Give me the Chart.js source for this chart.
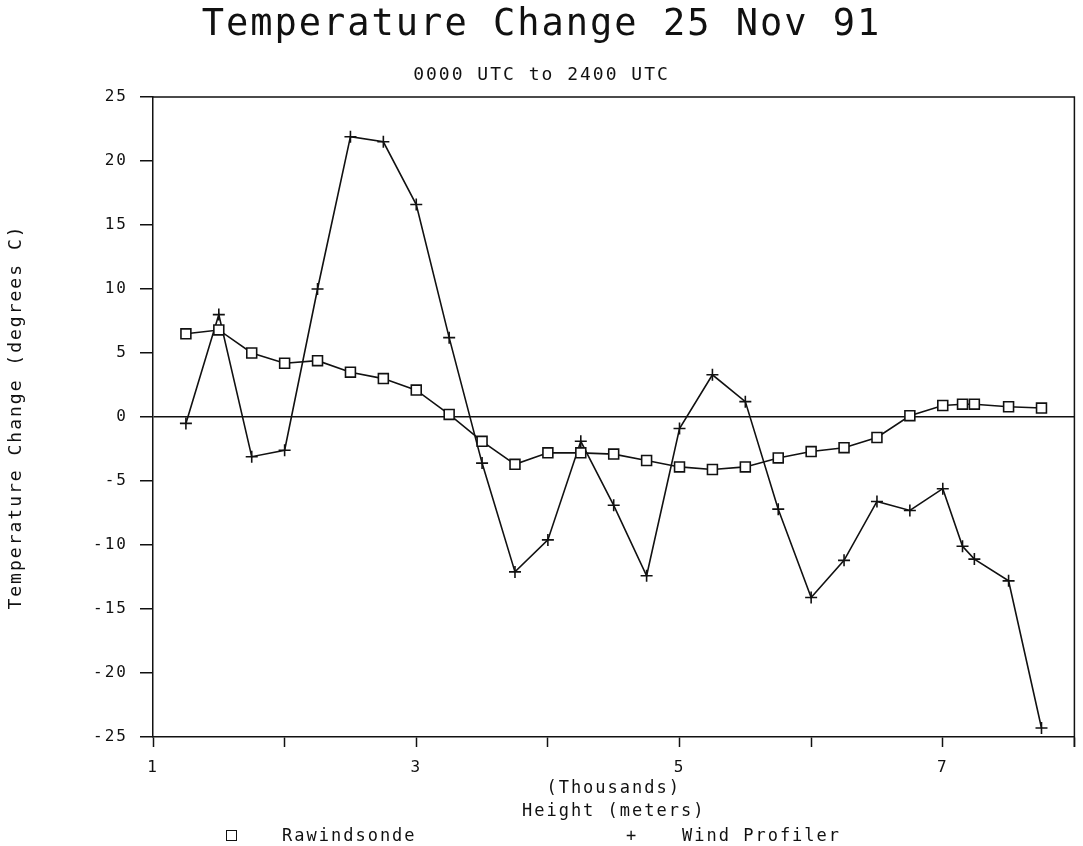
<!DOCTYPE html>
<html>
<head>
<meta charset="utf-8">
<title>Temperature Change 25 Nov 91</title>
<script src="https://cdn.jsdelivr.net/npm/chart.js@4"></script>
<style>
  body { margin: 0; background: #fff; }
  #wrap { position: relative; width: 1083px; height: 846px; }
  .leg { position: absolute; top: 825px; height: 20px; line-height: 20px;
         font: 17px "DejaVu Sans Mono", monospace; letter-spacing: 2px; color: #111; }
  .box { position: absolute; top: 830px; width: 9px; height: 9px; border: 1.5px solid #111; }
</style>
</head>
<body>
<div id="wrap">
  <canvas id="myChart"></canvas>
  <span class="box" style="left:226px"></span>
  <span class="leg" style="left:282px">Rawindsonde</span>
  <span class="leg" style="left:626px">+</span>
  <span class="leg" style="left:682px">Wind Profiler</span>
</div>
<script>
// heights in thousands of meters
var heights = [1.25, 1.5, 1.75, 2, 2.25, 2.5, 2.75, 3, 3.25, 3.5, 3.75, 4, 4.25, 4.5,
               4.75, 5, 5.25, 5.5, 5.75, 6, 6.25, 6.5, 6.75, 7, 7.15, 7.24, 7.5, 7.75];
var rawinsonde = [6.5, 6.8, 5.0, 4.2, 4.4, 3.5, 3.0, 2.1, 0.2, -1.9, -3.7, -2.8, -2.8, -2.9,
                  -3.4, -3.9, -4.1, -3.9, -3.2, -2.7, -2.4, -1.6, 0.1, 0.9, 1.0, 1.0, 0.8, 0.7];
var windProfiler = [-0.5, 8.0, -3.1, -2.6, 10.0, 21.9, 21.5, 16.6, 6.2, -3.6, -12.1, -9.6, -1.9, -6.9,
                    -12.4, -0.9, 3.3, 1.2, -7.2, -14.1, -11.2, -6.6, -7.3, -5.6, -10.1, -11.1, -12.8, -24.3];
var xLabels = [1, 3, 5, 7];

function pts(vals) {
  return heights.map(function (h, i) { return { x: h, y: vals[i] }; });
}

var ink = '#111';
var mono = '"DejaVu Sans Mono", monospace';

// plotter style text is spaced out a bit
var spacing = {
  id: 'spacing',
  beforeUpdate: function (chart) { chart.ctx.letterSpacing = '2px'; },
  beforeDraw: function (chart) { chart.ctx.letterSpacing = '2px'; }
};
// top and right edges of the plot frame
var frame = {
  id: 'frame',
  afterDraw: function (chart) {
    var a = chart.chartArea, c = chart.ctx;
    c.save();
    c.strokeStyle = ink;
    c.lineWidth = 1.5;
    c.beginPath();
    c.moveTo(a.left, a.top);
    c.lineTo(a.right, a.top);
    c.lineTo(a.right, a.bottom + 10);
    c.stroke();
    c.restore();
  }
};

var ctx = document.getElementById('myChart');
var myChart = new Chart(ctx, {
  type: 'scatter',
  data: {
    datasets: [
      {
        label: 'Rawindsonde',
        data: pts(rawinsonde),
        showLine: true,
        borderColor: ink,
        borderWidth: 1.6,
        tension: 0,
        pointStyle: 'rect',
        pointRadius: 7,
        pointBorderWidth: 1.6,
        pointBorderColor: ink,
        pointBackgroundColor: '#fff'
      },
      {
        label: 'Wind Profiler',
        data: pts(windProfiler),
        showLine: true,
        borderColor: ink,
        borderWidth: 1.6,
        tension: 0,
        pointStyle: 'cross',
        pointRadius: 6,
        pointBorderWidth: 1.6,
        pointBorderColor: ink
      }
    ]
  },
  options: {
    responsive: true,
    maintainAspectRatio: false,
    animation: false,
    layout: { padding: { left: 0, right: 0, top: 0, bottom: 22.5 } },
    plugins: {
      legend: { display: false },
      tooltip: { enabled: false },
      title: {
        display: true,
        text: 'Temperature Change 25 Nov 91',
        color: ink,
        font: { family: mono, size: 37, weight: 'normal' },
        padding: { top: 3, bottom: 10 }
      },
      subtitle: {
        display: true,
        text: '0000 UTC to 2400 UTC',
        color: ink,
        font: { family: mono, size: 18, weight: 'normal' },
        padding: { top: 7, bottom: 11 }
      }
    },
    scales: {
      x: {
        type: 'linear',
        min: 1,
        max: 8,
        afterFit: function (s) { s.height = 86.5; s.paddingRight = 0; },
        border: { color: ink, width: 1.5 },
        grid: { drawOnChartArea: false, color: ink, tickLength: 10, tickWidth: 1.5 },
        ticks: {
          stepSize: 1,
          autoSkip: false,
          maxRotation: 0,
          padding: 11,
          color: ink,
          font: { family: mono, size: 16 },
          callback: function (v) { return xLabels.indexOf(v) >= 0 ? String(v) : ''; }
        },
        title: {
          display: true,
          text: ['(Thousands)', 'Height (meters)'],
          color: ink,
          font: { family: mono, size: 17, lineHeight: 1.353 },
          padding: { top: 0, bottom: 0 }
        }
      },
      y: {
        min: -25,
        max: 25,
        afterFit: function (s) { s.width = 153; },
        border: { color: ink, width: 1.5 },
        grid: {
          color: function (c) { return c.tick && c.tick.value === 0 ? ink : 'rgba(0,0,0,0)'; },
          tickColor: ink,
          lineWidth: 1.5,
          tickLength: 13,
          tickWidth: 1.5
        },
        ticks: {
          stepSize: 5,
          padding: 12,
          color: ink,
          font: { family: mono, size: 16 }
        },
        title: {
          display: true,
          text: 'Temperature Change (degrees C)',
          color: ink,
          font: { family: mono, size: 18 },
          padding: { top: 6, bottom: 0 }
        }
      }
    }
  },
  plugins: [spacing, frame]
});
</script>
</body>
</html>
